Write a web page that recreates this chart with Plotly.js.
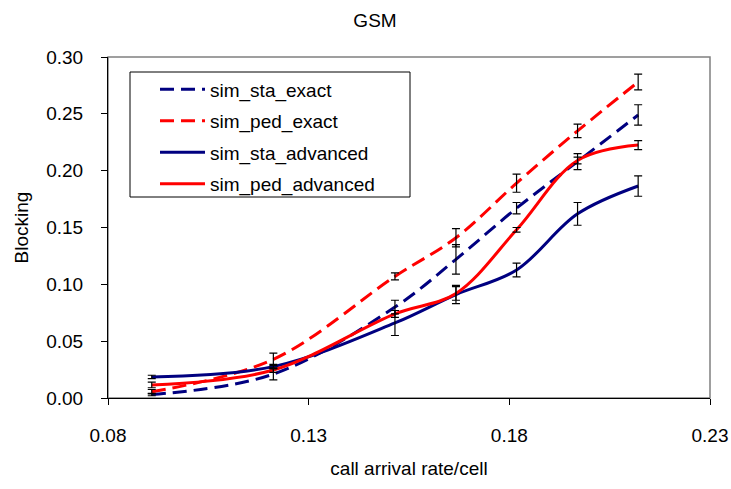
<!DOCTYPE html>
<html><head><meta charset="utf-8">
<script src="https://cdn.plot.ly/plotly-3.0.1.min.js"></script>
<style>html,body{margin:0;padding:0;background:#fff}</style>
</head><body><div id="chart" style="width:731px;height:489px"></div>
<script>
const xRate = [0.0909, 0.1212, 0.1515, 0.1667, 0.1818, 0.1970, 0.2121];
const staExact = [0.003, 0.021, 0.080, 0.122, 0.167, 0.208, 0.249];
const pedExact = [0.0055, 0.034, 0.107, 0.141, 0.189, 0.235, 0.278];
const staAdv = [0.0185, 0.0276, 0.066, 0.091, 0.1126, 0.162, 0.1865];
const pedAdv = [0.0115, 0.0246, 0.074, 0.092, 0.148, 0.209, 0.2225];
const staExactErr = [0.001, 0.005, 0.006, 0.013, 0.005, 0.007, 0.009];
const pedExactErr = [0.002, 0.0055, 0.003, 0.008, 0.008, 0.006, 0.007];
const staAdvErr = [0.0015, 0.002, 0.011, 0.008, 0.006, 0.010, 0.009];
const pedAdvErr = [0.0025, 0.002, 0.003, 0.006, 0.002, 0.003, 0.004];
const seriesNames = ['sim_sta_exact', 'sim_ped_exact', 'sim_sta_advanced', 'sim_ped_advanced'];
const xTicks = [0.08, 0.13, 0.18, 0.23];
const yTicks = [0.00, 0.05, 0.10, 0.15, 0.20, 0.25, 0.30];

const NAVY = '#000080', RED = '#FF0000';
const dashed = '14px,7px';
function lineTrace(y, name, color, dash, g) {
  return {x: xRate, y: y, name: name, type: 'scatter', mode: 'lines',
    legendgroup: g,
    line: {color: color, width: 3, dash: dash, shape: 'spline', smoothing: 1}};
}
function errTrace(y, err) {
  return {x: xRate, y: y, type: 'scatter', mode: 'markers', showlegend: false, hoverinfo: 'skip',
    marker: {size: 1, opacity: 0},
    error_y: {type: 'data', array: err, visible: true, color: '#000', thickness: 1.2, width: 4}};
}
const data = [
  lineTrace(staExact, seriesNames[0], NAVY, dashed, 'g1'),
  lineTrace(pedExact, seriesNames[1], RED, dashed, 'g2'),
  lineTrace(staAdv, seriesNames[2], NAVY, 'solid', 'g3'),
  lineTrace(pedAdv, seriesNames[3], RED, 'solid', 'g4'),
  errTrace(staExact, staExactErr),
  errTrace(pedExact, pedExactErr),
  errTrace(staAdv, staAdvErr),
  errTrace(pedAdv, pedAdvErr)
];
const FONT = 'Liberation Sans, Arial, sans-serif';
const layout = {
  width: 731, height: 489,
  margin: {l: 108, r: 21, t: 57, b: 91, pad: 0},
  paper_bgcolor: '#fff', plot_bgcolor: '#fff',
  font: {family: FONT, color: '#000', size: 19},
  title: {text: 'GSM', font: {size: 19, family: FONT}, x: 0.513, xanchor: 'center', y: 0.958, yanchor: 'middle', yref: 'container'},
  xaxis: {range: [0.08, 0.23], tickvals: xTicks, ticktext: xTicks.map(v => v.toFixed(2)),
    ticks: 'outside', ticklen: 6, tickcolor: '#000', showline: true, linecolor: '#000', linewidth: 1,
    showgrid: false, zeroline: false, tickfont: {size: 19}, ticklabelstandoff: 14,
    title: {text: 'call arrival rate/cell', font: {size: 19}, standoff: 16}},
  yaxis: {range: [0, 0.30], tickvals: yTicks, ticktext: yTicks.map(v => v.toFixed(2)),
    ticks: 'outside', ticklen: 6, tickcolor: '#000', showline: true, linecolor: '#000', linewidth: 1,
    showgrid: false, zeroline: false, tickfont: {size: 19}, ticklabelstandoff: 14,
    title: {text: 'Blocking', font: {size: 19}, standoff: 12}},
  showlegend: true,
  legend: {x: (155 - 108) / 602, y: (398 - 70.5) / 341, xanchor: 'left', yanchor: 'top',
    bgcolor: 'rgba(0,0,0,0)', borderwidth: 0, font: {size: 19, family: FONT},
    traceorder: 'grouped', tracegroupgap: 3.8, itemwidth: 45},
  shapes: [
    {type: 'rect', xref: 'paper', yref: 'paper', x0: 0, x1: 1, y0: 0, y1: 1,
      line: {color: '#808080', width: 1.5}, layer: 'below'},
    {type: 'rect', xref: 'paper', yref: 'paper',
      x0: (130 - 108) / 602, x1: (410 - 108) / 602, y0: (398 - 197) / 341, y1: (398 - 72) / 341,
      line: {color: '#000', width: 1}, fillcolor: 'rgba(0,0,0,0)', layer: 'above'}
  ]
};
Plotly.newPlot('chart', data, layout, {displayModeBar: false, staticPlot: true});
</script>
</body></html>
